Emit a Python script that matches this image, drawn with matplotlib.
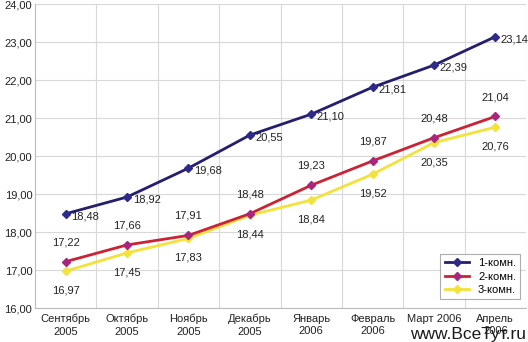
import matplotlib.pyplot as plt
from matplotlib.ticker import FixedLocator

months = ["Сентябрь\n2005", "Октябрь\n2005", "Ноябрь\n2005", "Декабрь\n2005",
          "Январь\n2006", "Февраль\n2006", "Март 2006", "Апрель\n2006"]
room1 = [18.48, 18.92, 19.68, 20.55, 21.10, 21.81, 22.39, 23.14]
room2 = [17.22, 17.66, 17.91, 18.48, 19.23, 19.87, 20.48, 21.04]
room3 = [16.97, 17.45, 17.83, 18.44, 18.84, 19.52, 20.35, 20.76]
names = ["1-комн.", "2-комн.", "3-комн."]

plt.rcParams["font.family"] = ["Liberation Sans", "DejaVu Sans"]
fig = plt.figure(figsize=(5.28, 3.42), dpi=100)
ax = fig.add_axes([35 / 528, 1 - 308 / 342, 491 / 528, 304 / 342])

x = list(range(len(months)))
ax.plot(x, room3, color="#f2e23a", lw=2, marker="D", ms=4.5,
        mfc="#f2e23a", mec="#f2e23a", label=names[2], zorder=3)
ax.plot(x, room2, color="#cc2233", lw=2, marker="D", ms=4.5,
        mfc="#a8267e", mec="#a8267e", label=names[1], zorder=4)
ax.plot(x, room1, color="#231f6e", lw=2, marker="D", ms=4.5,
        mfc="#2e2a8a", mec="#2e2a8a", label=names[0], zorder=5)

fmt = lambda v: f"{v:.2f}".replace(".", ",")
for i in x:
    ax.annotate(fmt(room1[i]), (i, room1[i]), xytext=(4, -2),
                textcoords="offset points", fontsize=8, va="center",
                ha="left", color="#222222")
    ax.annotate(fmt(room2[i]), (i, room2[i]), xytext=(0, 14),
                textcoords="offset points", fontsize=8, va="center",
                ha="center", color="#222222")
    ax.annotate(fmt(room3[i]), (i, room3[i]), xytext=(0, -14),
                textcoords="offset points", fontsize=8, va="center",
                ha="center", color="#222222")

ax.set_xlim(-0.5, len(months) - 0.5)
ax.set_ylim(16, 24)
ax.set_yticks([16, 17, 18, 19, 20, 21, 22, 23, 24])
ax.set_yticklabels([fmt(v) for v in range(16, 25)])
ax.set_xticks(x)
ax.set_xticklabels(months, linespacing=1.35)
ax.xaxis.set_minor_locator(FixedLocator([i + 0.5 for i in x]))
ax.tick_params(axis="both", which="both", length=0, labelsize=8,
               colors="#222222")
ax.tick_params(axis="y", pad=2)
ax.tick_params(axis="x", pad=4)
ax.grid(True, axis="y", color="#d8d8d8", lw=0.8)
ax.grid(True, axis="x", which="minor", color="#d8d8d8", lw=0.8)
for side in ["top", "right"]:
    ax.spines[side].set_visible(False)
for side in ["left", "bottom"]:
    ax.spines[side].set_color("#bbbbbb")

handles, labels = ax.get_legend_handles_labels()
leg = ax.legend(handles[::-1], labels[::-1], loc="lower right",
                fontsize=8, frameon=True, fancybox=False,
                borderpad=0.4, handlelength=2.2, labelspacing=0.3,
                bbox_to_anchor=(1.0, 0.01))
leg.get_frame().set_edgecolor("#999999")
leg.get_frame().set_linewidth(0.8)

# site watermark in the lower right corner
fig.text(526 / 528, 0.0, "www.ВсеТут.ru", fontsize=12.5, ha="right",
         va="bottom", color="#1a1a1a")

fig.savefig("out.png", dpi=100)
